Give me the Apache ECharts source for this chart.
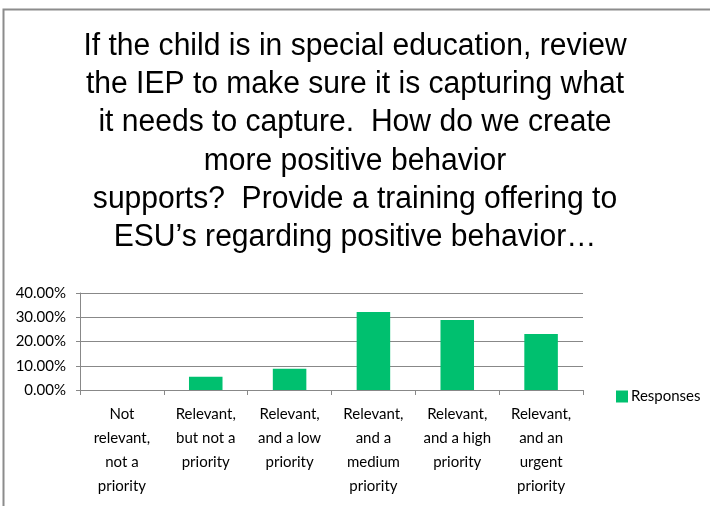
<!DOCTYPE html>
<html>
<head>
<meta charset="utf-8">
<script src="https://cdn.jsdelivr.net/npm/echarts@6/dist/echarts.min.js"></script>
<style>
  html, body { margin: 0; padding: 0; background: #fff; }
  #chart { width: 710px; height: 506px; }
</style>
</head>
<body>
<div id="chart"></div>
<script>
// data
const categories = [
  'Not\nrelevant,\nnot a\npriority',
  'Relevant,\nbut not a\npriority',
  'Relevant,\nand a low\npriority',
  'Relevant,\nand a\nmedium\npriority',
  'Relevant,\nand a high\npriority',
  'Relevant,\nand an\nurgent\npriority'
];
const responses = [0, 5.5, 8.8, 32.2, 28.9, 23.1];
const yTicks = [0, 10, 20, 30, 40];

const titleText = 'If the child is in special education, review\n' +
  'the IEP to make sure it is capturing what\n' +
  'it needs to capture.  How do we create\n' +
  'more positive behavior\n' +
  'supports?  Provide a training offering to\n' +
  'ESU\u2019s regarding positive behavior\u2026';

const chart = echarts.init(document.getElementById('chart'));

const option = {
  animation: false,
  graphic: [{
    type: 'rect',
    shape: { x: 3.5, y: 9.5, width: 800, height: 600 },
    style: { fill: 'none', stroke: '#8c8c8c', lineWidth: 2 },
    silent: true
  }, {
    // title drawn as graphic text so it can be squeezed a little
    type: 'text',
    x: 355,
    y: 27,
    scaleX: 0.97,
    silent: true,
    style: {
      text: titleText,
      fontFamily: '"Liberation Sans", Arial, sans-serif',
      fontSize: 31,
      lineHeight: 38.3,
      fill: '#000',
      align: 'center',
      verticalAlign: 'top'
    }
  }],
  legend: {
    data: ['Responses'],
    left: 611,
    top: 384,
    itemWidth: 12,
    itemHeight: 12,
    itemGap: 4,
    icon: 'rect',
    textStyle: { fontFamily: 'Lato, sans-serif', fontSize: 15, color: '#000', padding: [0, 0, 0, -2] }
  },
  grid: { left: 80, right: 127, top: 293, bottom: 116 },
  xAxis: {
    type: 'category',
    data: categories,
    axisLine: { lineStyle: { color: '#888', width: 1 } },
    axisTick: { show: true, length: 5, lineStyle: { color: '#888' } },
    axisLabel: {
      interval: 0,
      margin: 12,
      fontFamily: 'Lato, sans-serif',
      fontSize: 15,
      lineHeight: 24,
      color: '#000'
    }
  },
  yAxis: {
    type: 'value',
    min: 0,
    max: 40,
    interval: 10,
    axisLine: { show: true, lineStyle: { color: '#888' } },
    axisTick: { show: true, length: 4, lineStyle: { color: '#888' } },
    splitLine: { lineStyle: { color: '#888', width: 1 } },
    axisLabel: {
      margin: 14,
      fontFamily: 'Lato, sans-serif',
      fontSize: 15,
      color: '#000',
      formatter: v => yTicks.indexOf(v) >= 0 ? v.toFixed(2) + '%' : ''
    }
  },
  series: [{
    name: 'Responses',
    type: 'bar',
    data: responses,
    barCategoryGap: '60%',
    itemStyle: { color: '#00c06f' }
  }]
};

chart.setOption(option);
</script>
</body>
</html>
